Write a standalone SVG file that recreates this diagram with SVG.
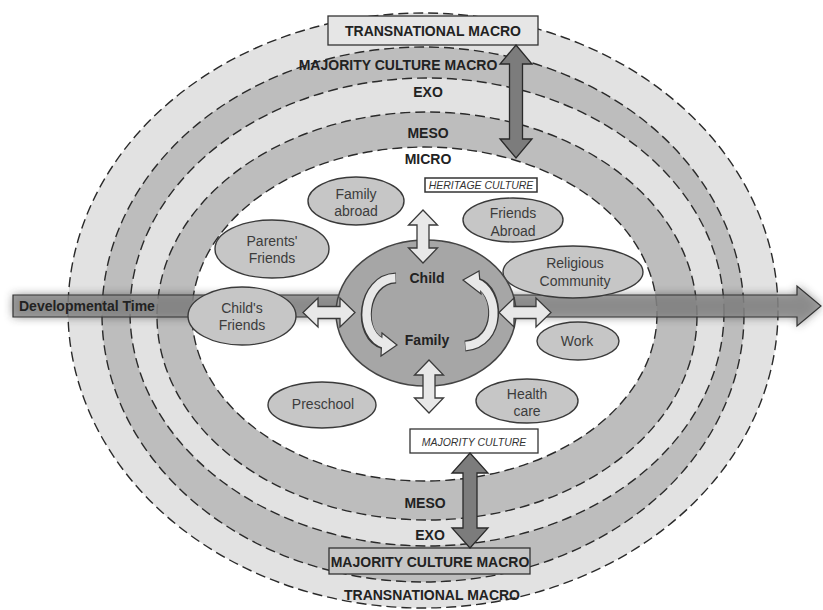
<svg xmlns="http://www.w3.org/2000/svg" width="823" height="610" viewBox="0 0 823 610">
<defs>
<filter id="blur" x="-10%" y="-100%" width="120%" height="300%"><feGaussianBlur stdDeviation="5"/></filter>
<style>
.ring{stroke:#2a2a2a;stroke-width:1.4;stroke-dasharray:10 5}
.light{fill:#e2e2e2}
.dark{fill:#bdbdbd}
.node{fill:#c6c6c6;stroke:#3a3a3a;stroke-width:1.4}
.nt{font-family:"Liberation Sans",Arial,sans-serif;font-size:14px;fill:#3c3c3c;text-anchor:middle}
.lb{font-family:"Liberation Sans",Arial,sans-serif;font-size:14px;font-weight:bold;fill:#222;text-anchor:middle}
.it{font-family:"Liberation Sans",Arial,sans-serif;font-size:10.5px;font-style:italic;fill:#333;text-anchor:middle}
.la{fill:#e8e8e8;stroke:#3a3a3a;stroke-width:1.3;stroke-linejoin:miter}
.da{fill:#7c7c7c;stroke:#2a2a2a;stroke-width:1.3}
</style>
</defs>
<rect width="823" height="610" fill="#ffffff"/>
<g id="rings">
<ellipse class="ring light" cx="423" cy="310.5" rx="355" ry="297.5"/>
<ellipse class="ring dark" cx="423" cy="314.5" rx="321" ry="267.5"/>
<ellipse class="ring light" cx="427" cy="312" rx="297" ry="234"/>
<ellipse class="ring dark" cx="427" cy="316" rx="270" ry="204"/>
<ellipse class="ring" fill="#ffffff" cx="424.5" cy="314" rx="232.5" ry="167"/>
</g>
<g id="developmental-time">
<polygon points="13,295 797,295 797,286 821,306 797,326 797,317 13,317" fill="#333" opacity="0.55" filter="url(#blur)"/>
<polygon points="13,295 797,295 797,286 821,306 797,326 797,317 13,317" fill="#8a8a8a" fill-opacity="0.78" stroke="#333" stroke-width="1.2"/>
<text x="19" y="311" font-family="Liberation Sans,Arial,sans-serif" font-size="14" font-weight="bold" fill="#222">Developmental Time</text>
</g>
<g id="labels">
<g id="transnational-top"><rect x="328" y="16" width="210" height="29" fill="#e6e6e6" stroke="#333" stroke-width="1.3"/><text class="lb" x="433" y="36">TRANSNATIONAL MACRO</text></g>
<text class="lb" x="398" y="70">MAJORITY CULTURE MACRO</text>
<text class="lb" x="428" y="97">EXO</text>
<text class="lb" x="428" y="138">MESO</text>
<text class="lb" x="428" y="164">MICRO</text>
<g id="heritage-culture"><rect x="425" y="178" width="112" height="14" fill="#ffffff" stroke="#333" stroke-width="1.5"/><text class="it" x="481" y="189">HERITAGE CULTURE</text></g>
<g id="majority-culture"><rect x="410" y="429" width="128" height="24" fill="#ffffff" stroke="#333" stroke-width="1.3"/><text class="it" x="474" y="445.5">MAJORITY CULTURE</text></g>
<text class="lb" x="425" y="508">MESO</text>
<text class="lb" x="430" y="540">EXO</text>
<g id="majority-macro-bottom"><rect x="329" y="548" width="201" height="26" fill="#c6c6c6" stroke="#333" stroke-width="1.3"/><text class="lb" x="430" y="567">MAJORITY CULTURE MACRO</text></g>
<text class="lb" x="432" y="600">TRANSNATIONAL MACRO</text>
</g>
<g id="nodes">
<g id="family-abroad"><ellipse class="node" cx="356" cy="201" rx="48" ry="24"/><text class="nt" x="356" y="199">Family</text><text class="nt" x="356" y="216">abroad</text></g>
<g id="parents-friends"><ellipse class="node" cx="272" cy="249" rx="57" ry="29"/><text class="nt" x="272" y="246">Parents'</text><text class="nt" x="272" y="263">Friends</text></g>
<g id="childs-friends"><ellipse class="node" cx="242" cy="316" rx="54" ry="29"/><text class="nt" x="242" y="313">Child's</text><text class="nt" x="242" y="330">Friends</text></g>
<g id="preschool"><ellipse class="node" cx="322" cy="405" rx="54" ry="23"/><text class="nt" x="323" y="409">Preschool</text></g>
<g id="friends-abroad"><ellipse class="node" cx="513" cy="220" rx="50" ry="22"/><text class="nt" x="513" y="218">Friends</text><text class="nt" x="513" y="236">Abroad</text></g>
<g id="religious-community"><ellipse class="node" cx="573" cy="272" rx="70" ry="26"/><text class="nt" x="575" y="268">Religious</text><text class="nt" x="575" y="286">Community</text></g>
<g id="work"><ellipse class="node" cx="578" cy="341" rx="41" ry="19"/><text class="nt" x="577" y="346">Work</text></g>
<g id="health-care"><ellipse class="node" cx="527" cy="401" rx="51" ry="22"/><text class="nt" x="527" y="399">Health</text><text class="nt" x="527" y="416">care</text></g>
<g id="child-family">
<ellipse cx="426" cy="313" rx="90" ry="73" fill="#a6a6a6" stroke="#444" stroke-width="1.5"/>
<path d="M396 278 C362 279 356 336 384 344" fill="none" stroke="#3a3a3a" stroke-width="11"/>
<polygon points="397,345 382,333 381,356" fill="#e8e8e8" stroke="#3a3a3a" stroke-width="1.2"/>
<path d="M395.5 278 C362 279 356 336 386 344.5" fill="none" stroke="#e8e8e8" stroke-width="8.4"/>
<path d="M465 346 C502 343 500 290 477 283" fill="none" stroke="#3a3a3a" stroke-width="11"/>
<polygon points="463,280 479,271 481,294" fill="#e8e8e8" stroke="#3a3a3a" stroke-width="1.2"/>
<path d="M465.5 346 C502 343 500 290 475 282.5" fill="none" stroke="#e8e8e8" stroke-width="8.4"/>
<text class="lb" x="427" y="283">Child</text>
<text class="lb" x="427" y="345">Family</text>
</g>
</g>
<g id="connectors">
<polygon class="la" points="423,210 437.5,225 429,225 429,248 437.5,248 423,263 408.5,248 417,248 417,225 408.5,225"/>
<polygon class="la" points="429,360 443.5,375 435,375 435,398 443.5,398 429,413 414.5,398 423,398 423,375 414.5,375"/>
<polygon class="la" points="303,312.5 318,298 318,306.5 340,306.5 340,298 355,312.5 340,327 340,318.5 318,318.5 318,327"/>
<polygon class="la" points="499,312.5 514,298 514,306.5 536,306.5 536,298 551,312.5 536,327 536,318.5 514,318.5 514,327"/>
<polygon class="da" points="516,45 532,64 522.5,64 522.5,139 532,139 516,158 500,139 509.5,139 509.5,64 500,64"/>
<polygon class="da" points="470,453 488,473 477,473 477,528 488,528 470,548 452,528 463,528 463,473 452,473"/>
</g>
</svg>
